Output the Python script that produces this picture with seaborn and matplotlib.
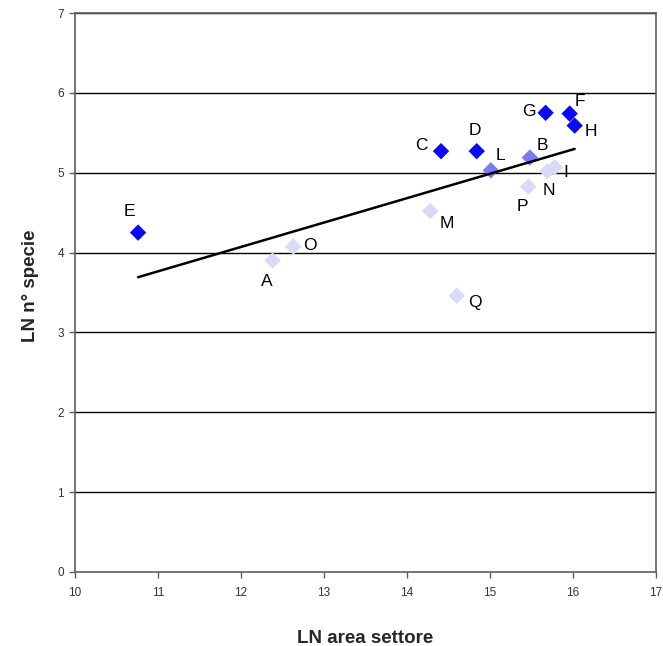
import numpy as np
import pandas as pd
import matplotlib
matplotlib.use("Agg")
import matplotlib.pyplot as plt
import seaborn as sns

# Sampling sectors: log area vs log species count
sectors = ["E", "A", "O", "M", "Q", "C", "D", "L", "B", "P", "N", "I", "G", "F", "H"]
ln_area = [10.76, 12.38, 12.63, 14.28, 14.60, 14.41, 14.84, 15.01, 15.48, 15.46, 15.69, 15.78, 15.67, 15.96, 16.02]
ln_species = [4.25, 3.90, 4.075, 4.52, 3.46, 5.27, 5.27, 5.03, 5.19, 4.825, 5.02, 5.07, 5.75, 5.74, 5.59]
group = ["alto", "basso", "basso", "basso", "basso", "alto", "alto", "medio", "medio",
         "basso", "basso", "basso", "alto", "alto", "alto"]

# label offsets (points) for each sector letter
label_dx = [-6, -4, 12, 12, 13, -14, -1, 7, 9, -4, 1, 8, -12, 7, 12]
label_dy = [15, -15, 1, -9, -5, 4, 15, 11, 9, -14, -14, -4, 1, 9, -4]

palette = {"alto": "#0a0af5", "medio": "#7c7cf0", "basso": "#d9d9f8"}

df = pd.DataFrame({"sector": sectors, "area": ln_area, "species": ln_species, "group": group})

sns.set_theme(style="white")
plt.rcParams["font.family"] = ["Liberation Sans", "DejaVu Sans"]

fig = plt.figure(figsize=(6.63, 6.46), dpi=100)
ax = fig.add_axes([75 / 663, 74 / 646, 581 / 663, 559 / 646])

ax.set_xlim(10, 17)
ax.set_ylim(0, 7)
ax.set_yticks(range(0, 8))
ax.set_xticks(range(10, 18))
for yv in range(1, 8):
    ax.axhline(yv, color="black", lw=1.0, zorder=1)

sns.regplot(data=df, x="area", y="species", scatter=False, ci=None, truncate=True,
            line_kws={"color": "black", "lw": 1.8, "zorder": 3}, ax=ax)

sns.scatterplot(data=df, x="area", y="species", hue="group", palette=palette,
                marker="D", s=70, edgecolor="none", legend=False, zorder=2, ax=ax)

for name, x, y, dx, dy in zip(sectors, ln_area, ln_species, label_dx, label_dy):
    ax.annotate(name, (x, y), xytext=(dx, dy), textcoords="offset points",
                ha="center", va="center", fontsize=12.5, color="black", zorder=4)

for side in ["left", "bottom", "top", "right"]:
    ax.spines[side].set_visible(True)
    ax.spines[side].set_color("#5f5f5f")
    ax.spines[side].set_linewidth(1.2)

ax.tick_params(axis="both", which="both", direction="out", length=4, width=1,
               color="#5f5f5f", labelsize=8.5, labelcolor="#333333", bottom=True, left=True)
ax.tick_params(axis="x", pad=7)
ax.tick_params(axis="y", pad=4)

ax.set_xlabel("LN area settore", fontsize=13.5, fontweight="bold", labelpad=22)
ax.set_ylabel("LN n° specie", fontsize=13.5, fontweight="bold", labelpad=16)
ax.yaxis.set_label_coords(-0.062, 0.512)

fig.savefig("out.png", dpi=100, facecolor="white")
